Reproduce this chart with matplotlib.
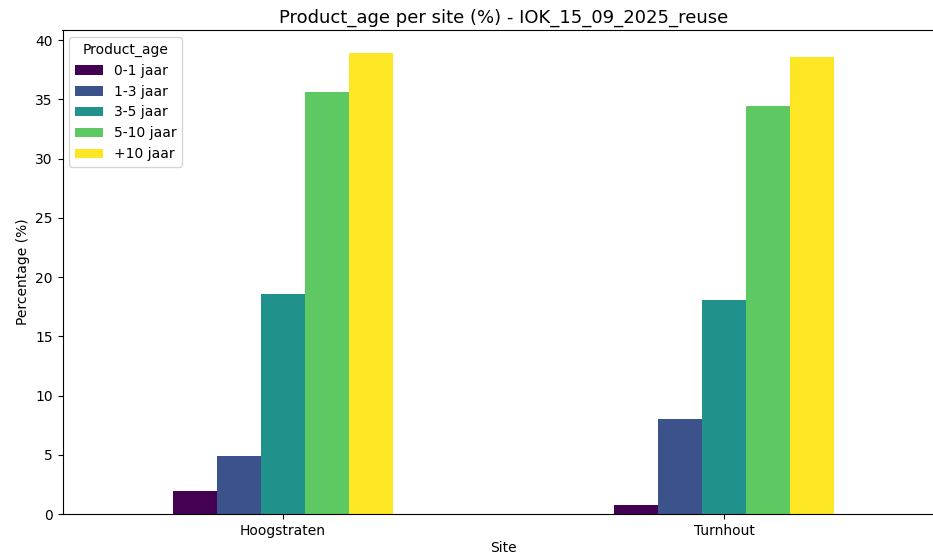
import numpy as np
import matplotlib
matplotlib.use("Agg")
import matplotlib.pyplot as plt

sites = ["Hoogstraten", "Turnhout"]
age_groups = ["0-1 jaar", "1-3 jaar", "3-5 jaar", "5-10 jaar", "+10 jaar"]
pct_0_1 = [1.95, 0.75]
pct_1_3 = [4.9, 8.0]
pct_3_5 = [18.6, 18.1]
pct_5_10 = [35.6, 34.4]
pct_10_plus = [38.9, 38.6]
series = [pct_0_1, pct_1_3, pct_3_5, pct_5_10, pct_10_plus]

fig = plt.figure(figsize=(9.33, 5.54), dpi=100)
# axes runs a little past the right edge, as in the reference crop
ax = fig.add_axes([62.5 / 933, 40 / 554, 882 / 933, 484 / 554])

colors = plt.cm.viridis(np.linspace(0, 1, len(age_groups)))
x = np.arange(len(sites))
width = 0.5 / len(age_groups)
for i, (label, vals) in enumerate(zip(age_groups, series)):
    offset = (i - (len(age_groups) - 1) / 2) * width
    ax.bar(x + offset, vals, width, color=colors[i], label=label)

ax.set_xlim(-0.5, len(sites) - 0.5)
ax.set_xticks(x)
ax.set_xticklabels(sites, rotation=0)
ax.set_xlabel("Site", labelpad=2)
ax.set_ylabel("Percentage (%)")
ax.set_title("Product_age per site (%) - IOK_15_09_2025_reuse", fontsize=13, pad=5)
ax.spines["right"].set_visible(False)
ax.legend(title="Product_age", loc="upper left")

fig.savefig("out.png", dpi=100)
